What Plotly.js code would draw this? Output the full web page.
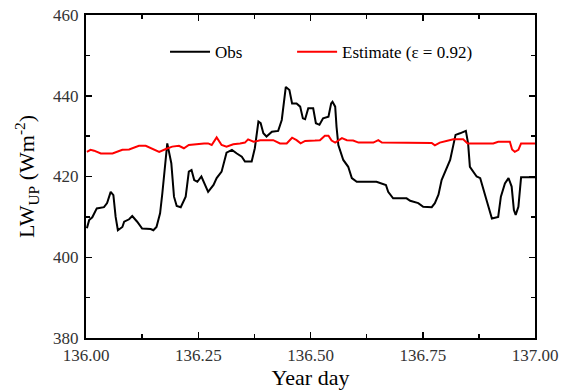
<!DOCTYPE html>
<html>
<head>
<meta charset="utf-8">
<script src="https://cdn.plot.ly/plotly-3.0.1.min.js"></script>
<style>html,body{margin:0;padding:0;background:#fff;}#chart{width:561px;height:391px;}</style>
</head>
<body>
<div id="chart"></div>
<script>
var obsDay = [136.002,136.007,136.014,136.024,136.040,136.047,136.055,136.061,136.066,136.071,136.081,136.085,136.096,136.103,136.114,136.125,136.144,136.150,136.157,136.165,136.170,136.181,136.190,136.196,136.202,136.211,136.222,136.229,136.235,136.241,136.248,136.257,136.272,136.284,136.291,136.302,136.313,136.325,136.336,136.347,136.354,136.369,136.376,136.384,136.389,136.395,136.402,136.414,136.428,136.436,136.445,136.453,136.459,136.469,136.477,136.483,136.488,136.495,136.506,136.512,136.520,136.528,136.540,136.546,136.549,136.555,136.558,136.562,136.573,136.584,136.592,136.603,136.647,136.668,136.673,136.684,136.714,136.722,136.740,136.751,136.770,136.777,136.785,136.792,136.811,136.823,136.833,136.846,136.851,136.855,136.870,136.878,136.892,136.904,136.918,136.924,136.933,136.941,136.948,136.953,136.957,136.963,136.969,136.996,137.000];
var obsLW = [407.2,409.2,409.9,412.1,412.4,413.4,416.2,415.4,410.0,406.7,407.5,408.8,409.4,410.2,408.8,407.1,407.0,406.7,407.5,410.9,415.8,428.2,423.3,415.0,412.7,412.4,415.0,421.2,421.6,419.1,418.7,420.0,416.2,417.9,419.6,421.2,425.9,426.6,425.7,424.9,423.7,423.7,427.0,433.6,433.2,430.7,429.9,431.1,431.3,434.0,442.2,441.4,438.1,438.1,437.3,434.4,434.2,436.9,436.9,433.2,432.8,434.4,434.8,438.1,438.5,437.3,432.3,427.8,424.1,422.4,419.6,418.7,418.7,417.9,416.2,414.6,414.6,414.0,413.4,412.5,412.4,413.4,415.5,419.1,424.1,430.3,430.7,431.3,428.2,422.4,420.0,419.6,414.2,409.6,410.0,415.0,418.3,419.6,417.5,411.7,410.5,412.5,419.8,419.8,419.8];

var estDay = [136.002,136.010,136.018,136.033,136.059,136.070,136.081,136.096,136.107,136.118,136.133,136.144,136.155,136.163,136.178,136.192,136.207,136.218,136.229,136.248,136.263,136.272,136.280,136.291,136.302,136.313,136.328,136.343,136.354,136.361,136.373,136.388,136.417,136.432,136.447,136.459,136.469,136.478,136.488,136.510,136.521,136.532,136.540,136.547,136.555,136.570,136.581,136.595,136.607,136.640,136.651,136.659,136.770,136.777,136.788,136.807,136.818,136.840,136.850,136.907,136.918,136.944,136.949,136.955,136.963,136.969,137.000];
var estLW = [426.1,426.6,426.4,425.7,425.7,426.1,426.6,426.7,427.2,427.6,427.6,427.0,426.4,426.1,426.8,427.4,427.6,427.0,427.8,428.1,428.2,428.2,427.8,429.7,427.8,427.4,428.0,428.2,428.4,429.2,428.6,429.0,429.0,428.2,428.2,429.6,429.0,428.2,428.8,428.9,429.0,430.1,430.1,428.9,428.4,429.5,429.0,428.9,428.4,428.4,429.0,428.4,428.3,427.7,428.4,428.9,429.2,429.2,428.2,428.2,428.6,428.6,426.7,426.1,426.6,428.2,428.2];

var xTicks = [136.00,136.25,136.50,136.75,137.00];
var xTickText = ['136.00','136.25','136.50','136.75','137.00'];
var yTicks = [380,400,420,440,460];
var obsName = 'Obs';
var estName = 'Estimate (\u03b5 = 0.92)';

var serif = 'Liberation Serif, Times New Roman, serif';

var traces = [
  {x: obsDay, y: obsLW, type: 'scatter', mode: 'lines', name: obsName, legend: 'legend',
   line: {color: '#000000', width: 2}},
  {x: estDay, y: estLW, type: 'scatter', mode: 'lines', name: estName, legend: 'legend2',
   line: {color: '#ff0000', width: 2}}
];

function axisBase() {
  return {
    showline: true, linecolor: '#000', linewidth: 2, mirror: 'ticks',
    ticks: 'inside', ticklen: 6, tickwidth: 1.5, tickcolor: '#000',
    showgrid: false, zeroline: false,
    tickfont: {family: serif, size: 17, color: '#333'}
  };
}

var legendCommon = {orientation: 'h', xanchor: 'left', yanchor: 'middle', y: 0.885,
  font: {family: serif, size: 17, color: '#000'}, bgcolor: 'rgba(0,0,0,0)', itemwidth: 40};

var layout = {
  width: 561, height: 391,
  font: {family: serif, color: '#000'},
  margin: {l: 86, r: 26, t: 15, b: 53},
  paper_bgcolor: '#fff', plot_bgcolor: '#fff',
  showlegend: true,
  legend: Object.assign({}, legendCommon, {x: 0.176}),
  legend2: Object.assign({}, legendCommon, {x: 0.459}),
  xaxis: Object.assign(axisBase(), {
    range: [136, 137], tickvals: xTicks, ticktext: xTickText, ticklabelstandoff: 1,
    minor: {dtick: 0.125, ticks: 'inside', ticklen: 4, tickwidth: 1.5, tickcolor: '#000', showgrid: false},
    title: {text: 'Year day', font: {family: serif, size: 22, color: '#000'}, standoff: 5}
  }),
  yaxis: Object.assign(axisBase(), {
    range: [380, 460], tickvals: yTicks, ticklabelstandoff: 2,
    minor: {dtick: 10, ticks: 'inside', ticklen: 4, tickwidth: 1.5, tickcolor: '#000', showgrid: false},
    title: {text: 'LW<sub>UP</sub> (Wm<sup>-2</sup>)', font: {family: serif, size: 22, color: '#000'}, standoff: 12}
  })
};

Plotly.newPlot('chart', traces, layout, {displayModeBar: false, staticPlot: true});
</script>
</body>
</html>
